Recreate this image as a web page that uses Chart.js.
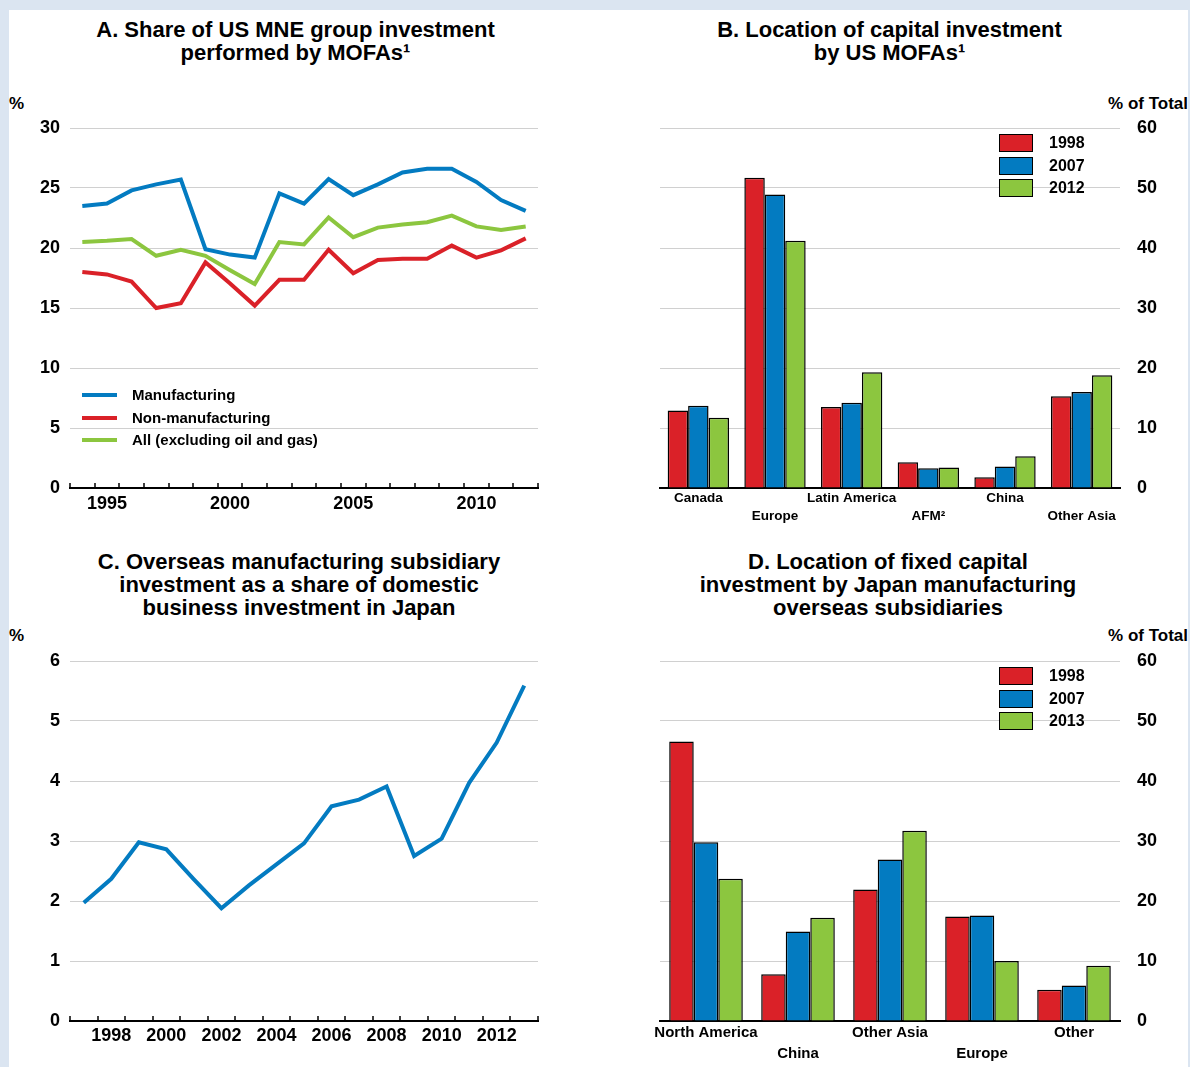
<!DOCTYPE html>
<html>
<head>
<meta charset="utf-8">
<script src="https://cdn.jsdelivr.net/npm/chart.js@4.4.1/dist/chart.umd.min.js"></script>
<style>
  html, body { margin: 0; padding: 0; }
  body { width: 1190px; height: 1067px; background: #dbe5f1; position: relative; overflow: hidden;
         font-family: 'Liberation Sans', Arial, sans-serif; font-weight: bold; color: #000; }
  #sheet { position: absolute; left: 9px; top: 10px; width: 1179px; height: 1057px; background: #fff; }
  canvas { position: absolute; }
  .title { position: absolute; text-align: center; font-size: 22px; line-height: 22.5px; white-space: nowrap; }
  .unit { position: absolute; font-size: 17px; line-height: 18px; white-space: nowrap; }
  .legend { position: absolute; }
  .legend div { position: relative; white-space: nowrap; }
  .legend span { position: absolute; left: 0; }
</style>
</head>
<body>
<div id="sheet"></div>

<div class="title" style="left:0;width:591px;top:19px">A. Share of US MNE group investment<br>performed by MOFAs¹</div>
<div class="title" style="left:595px;width:589px;top:19px">B. Location of capital investment<br>by US MOFAs¹</div>
<div class="title" style="left:0;width:598px;top:550px;line-height:23px">C. Overseas manufacturing subsidiary<br>investment as a share of domestic<br>business investment in Japan</div>
<div class="title" style="left:595px;width:586px;top:550px;line-height:23px">D. Location of fixed capital<br>investment by Japan manufacturing<br>overseas subsidiaries</div>

<div class="unit" style="left:9px;top:95px">%</div>
<div class="unit" style="right:2px;top:95px">% of Total</div>
<div class="unit" style="left:9px;top:627px">%</div>
<div class="unit" style="right:2px;top:627px">% of Total</div>

<canvas id="chartA" width="595" height="420" style="left:0;top:110px"></canvas>
<canvas id="chartB" width="595" height="420" style="left:595px;top:110px"></canvas>
<canvas id="chartC" width="595" height="420" style="left:0;top:640px"></canvas>
<canvas id="chartD" width="595" height="427" style="left:595px;top:640px"></canvas>

<div class="legend" id="legendA" style="left:82px;top:384px"></div>
<div class="legend" id="legendB" style="left:999px;top:132px"></div>
<div class="legend" id="legendD" style="left:999px;top:665px"></div>

<script>
Chart.defaults.font.family = "'Liberation Sans', Arial, sans-serif";
Chart.defaults.font.weight = 'bold';
Chart.defaults.color = '#000';
Chart.defaults.animation = false;
Chart.defaults.plugins.legend.display = false;
Chart.defaults.plugins.tooltip.enabled = false;

const BLUE = '#037bc1';
const RED = '#da2128';
const GREEN = '#8cc63f';
const GRID = '#d0d0d0';

// A. Share of US MNE group investment performed by MOFAs
const yearsA = ['1994', '1995', '1996', '1997', '1998', '1999', '2000', '2001', '2002', '2003',
  '2004', '2005', '2006', '2007', '2008', '2009', '2010', '2011', '2012'];
const yearTicksA = ['1995', '2000', '2005', '2010'];
const manufacturing = [23.5, 23.7, 24.8, 25.3, 25.7, 19.9, 19.45, 19.2, 24.55, 23.7,
  25.75, 24.4, 25.3, 26.3, 26.6, 26.6, 25.5, 24.0, 23.1];
const nonManufacturing = [18.0, 17.8, 17.2, 15.0, 15.4, 18.8, 17.05, 15.2, 17.35, 17.35,
  19.85, 17.9, 19.0, 19.1, 19.1, 20.2, 19.2, 19.8, 20.8];
const allExOilGas = [20.5, 20.6, 20.75, 19.35, 19.85, 19.35, 18.15, 17.0, 20.5, 20.3,
  22.55, 20.9, 21.7, 21.95, 22.15, 22.7, 21.8, 21.5, 21.8];

// B. Location of capital investment by US MOFAs
const regionsB = ['Canada', 'Europe', 'Latin America', 'AFM²', 'China', 'Other Asia'];
const capital1998 = [12.9, 51.7, 13.5, 4.3, 1.8, 15.3];
const capital2007 = [13.7, 48.9, 14.2, 3.3, 3.6, 16.0];
const capital2012 = [11.7, 41.2, 19.3, 3.4, 5.3, 18.8];

// C. Overseas manufacturing subsidiary investment / domestic business investment, Japan
const yearsC = ['1997', '1998', '1999', '2000', '2001', '2002', '2003', '2004', '2005',
  '2006', '2007', '2008', '2009', '2010', '2011', '2012', '2013'];
const yearTicksC = ['1998', '2000', '2002', '2004', '2006', '2008', '2010', '2012'];
const overseasShare = [1.97, 2.37, 2.98, 2.86, 2.36, 1.88, 2.26, 2.61, 2.96,
  3.58, 3.69, 3.91, 2.75, 3.04, 3.97, 4.64, 5.59];

// D. Location of fixed capital investment by Japan manufacturing overseas subsidiaries
const regionsD = ['North America', 'China', 'Other Asia', 'Europe', 'Other'];
const fixed1998 = [46.6, 7.8, 21.9, 17.4, 5.2];
const fixed2007 = [29.8, 14.9, 26.9, 17.6, 5.9];
const fixed2013 = [23.7, 17.2, 31.7, 10.0, 9.2];

// small upward tick marks on the category boundaries of the line charts
const upTicks = {
  id: 'upTicks',
  afterDraw(chart) {
    const x = chart.scales.x;
    const n = x.getLabels().length;
    const step = x.getPixelForValue(1) - x.getPixelForValue(0);
    const ctx = chart.ctx;
    ctx.save();
    ctx.strokeStyle = '#000';
    ctx.lineWidth = 1.5;
    ctx.beginPath();
    for (let i = 0; i <= n; i++) {
      const px = Math.round(x.getPixelForValue(i) - step / 2);
      ctx.moveTo(px, x.top);
      ctx.lineTo(px, x.top - 5);
    }
    ctx.stroke();
    ctx.restore();
  }
};

function lineSet(label, data, color) {
  return { label, data, borderColor: color, backgroundColor: color, borderWidth: 4,
    pointRadius: 0, tension: 0, fill: false };
}

function barSet(label, data, color) {
  return { label, data, backgroundColor: color, borderColor: '#000', borderWidth: 1.5,
    categoryPercentage: 0.8, barPercentage: 1.0 };
}

// gap between plot and labels comes from an invisible tick mark, so the
// tick padding does not push the plot area down
function yAxis(max, step, side, width) {
  return {
    position: side, min: 0, max: max,
    ticks: { stepSize: step, padding: 0, font: { size: 18 } },
    grid: { color: GRID, lineWidth: 1, drawTicks: true, tickLength: side === 'left' ? 10 : 17,
      tickColor: 'rgba(0,0,0,0)' },
    border: { display: false },
    afterFit: (s) => { s.width = width; }
  };
}

// A
new Chart(document.getElementById('chartA'), {
  type: 'line',
  data: {
    labels: yearsA,
    datasets: [
      lineSet('Manufacturing', manufacturing, BLUE),
      lineSet('Non-manufacturing', nonManufacturing, RED),
      lineSet('All (excluding oil and gas)', allExOilGas, GREEN),
    ],
  },
  options: {
    responsive: false,
    layout: { padding: { top: 18, right: 57, left: 0, bottom: 0 } },
    scales: {
      x: {
        offset: true,
        grid: { display: false, drawTicks: false },
        border: { color: '#000', width: 2 },
        ticks: { autoSkip: false, maxRotation: 0, padding: 5, font: { size: 18 },
          callback: (v, i) => (yearTicksA.includes(yearsA[i]) ? yearsA[i] : '') },
        afterFit: (s) => { s.height = 42; }
      },
      y: yAxis(30, 5, 'left', 70),
    },
  },
  plugins: [upTicks],
});

// B
new Chart(document.getElementById('chartB'), {
  type: 'bar',
  data: {
    labels: regionsB,
    datasets: [
      barSet('1998', capital1998, RED),
      barSet('2007', capital2007, BLUE),
      barSet('2012', capital2012, GREEN),
    ],
  },
  options: {
    responsive: false,
    layout: { padding: { top: 18, right: 0, left: 65, bottom: 0 } },
    scales: {
      x: {
        z: 1,
        grid: { display: false, drawTicks: false },
        border: { color: '#000', width: 2 },
        ticks: { autoSkip: false, maxRotation: 0, padding: 1.5, font: { size: 13.5, lineHeight: 1.33 },
          callback: (v, i) => (i % 2 ? ['', regionsB[i]] : regionsB[i]) },
        afterFit: (s) => { s.height = 42; }
      },
      y: yAxis(60, 10, 'right', 70),
    },
  },
});

// C
new Chart(document.getElementById('chartC'), {
  type: 'line',
  data: {
    labels: yearsC,
    datasets: [lineSet('Share of domestic business investment', overseasShare, BLUE)],
  },
  options: {
    responsive: false,
    layout: { padding: { top: 21, right: 57, left: 0, bottom: 0 } },
    scales: {
      x: {
        offset: true,
        grid: { display: false, drawTicks: false },
        border: { color: '#000', width: 2 },
        ticks: { autoSkip: false, maxRotation: 0, padding: 4.5, font: { size: 18 },
          callback: (v, i) => (yearTicksC.includes(yearsC[i]) ? yearsC[i] : '') },
        afterFit: (s) => { s.height = 39; }
      },
      y: yAxis(6, 1, 'left', 70),
    },
  },
  plugins: [upTicks],
});

// D
new Chart(document.getElementById('chartD'), {
  type: 'bar',
  data: {
    labels: regionsD,
    datasets: [
      barSet('1998', fixed1998, RED),
      barSet('2007', fixed2007, BLUE),
      barSet('2013', fixed2013, GREEN),
    ],
  },
  options: {
    responsive: false,
    layout: { padding: { top: 21, right: 0, left: 65, bottom: 0 } },
    scales: {
      x: {
        z: 1,
        grid: { display: false, drawTicks: false },
        border: { color: '#000', width: 2 },
        ticks: { autoSkip: false, maxRotation: 0, padding: 1.5, font: { size: 15, lineHeight: 1.4 },
          callback: (v, i) => (i % 2 ? ['', regionsD[i]] : regionsD[i]) },
        afterFit: (s) => { s.height = 46; }
      },
      y: yAxis(60, 10, 'right', 70),
    },
  },
});

// legends (HTML, built from the dataset names and colours)
function lineLegend(id, names, colors) {
  const el = document.getElementById(id);
  names.forEach((name, i) => {
    const row = document.createElement('div');
    row.style.height = '22.5px';
    row.style.fontSize = '15px';
    row.style.lineHeight = '22.5px';
    row.style.paddingLeft = '50px';
    row.textContent = name;
    const mark = document.createElement('span');
    mark.style.cssText = 'top:9px;width:35px;height:4px;background:' + colors[i];
    row.appendChild(mark);
    el.appendChild(row);
  });
}

function boxLegend(id, names, colors) {
  const el = document.getElementById(id);
  names.forEach((name, i) => {
    const row = document.createElement('div');
    row.style.height = '22.5px';
    row.style.fontSize = '16px';
    row.style.lineHeight = '22.5px';
    row.style.paddingLeft = '50px';
    row.textContent = name;
    const box = document.createElement('span');
    box.style.cssText = 'top:2px;width:32px;height:16px;border:1.5px solid #000;background:' + colors[i];
    row.appendChild(box);
    el.appendChild(row);
  });
}

lineLegend('legendA', ['Manufacturing', 'Non-manufacturing', 'All (excluding oil and gas)'], [BLUE, RED, GREEN]);
boxLegend('legendB', ['1998', '2007', '2012'], [RED, BLUE, GREEN]);
boxLegend('legendD', ['1998', '2007', '2013'], [RED, BLUE, GREEN]);
</script>
</body>
</html>
